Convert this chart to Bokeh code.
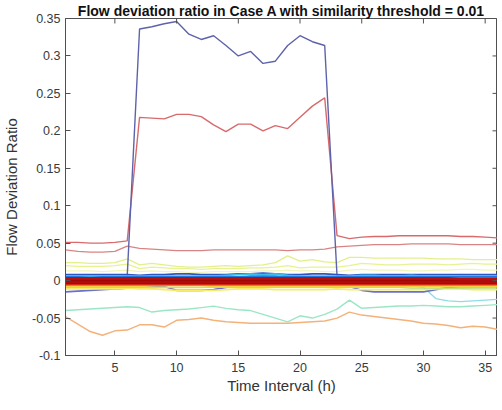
import math
from bokeh.plotting import figure
from bokeh.models import Range1d, FixedTicker
from bokeh.embed import file_html
from bokeh.resources import INLINE

# ---------------- data ----------------
hours = [1, 2, 3, 4, 5, 6, 7, 8, 9, 10, 11, 12, 13, 14, 15, 16, 17, 18,
         19, 20, 21, 22, 23, 24, 25, 26, 27, 28, 29, 30, 31, 32, 33, 34, 35, 36]

blue_spike = [0.005, 0.005, 0.005, 0.005, 0.005, 0.006,
              0.336, 0.339, 0.343, 0.346, 0.329, 0.322, 0.327, 0.314, 0.300, 0.306,
              0.290, 0.293, 0.314, 0.327, 0.319, 0.314,
              0.006, 0.005, 0.005, 0.005, 0.005, 0.005, 0.005, 0.005, 0.005, 0.005,
              0.005, 0.005, 0.005, 0.005]
red_spike = [0.051, 0.051, 0.050, 0.050, 0.051, 0.053,
             0.218, 0.217, 0.216, 0.222, 0.222, 0.219, 0.208, 0.199, 0.209, 0.209,
             0.200, 0.207, 0.203, 0.218, 0.233, 0.244,
             0.060, 0.056, 0.058, 0.059, 0.059, 0.060, 0.060, 0.060, 0.060, 0.060,
             0.059, 0.059, 0.058, 0.057]
pink = [0.041, 0.039, 0.038, 0.038, 0.039, 0.046, 0.043, 0.042, 0.041, 0.040,
        0.040, 0.040, 0.041, 0.041, 0.041, 0.041, 0.041, 0.041, 0.040, 0.041,
        0.041, 0.042, 0.045, 0.046, 0.047, 0.048, 0.048, 0.048, 0.049, 0.049,
        0.049, 0.049, 0.048, 0.048, 0.048, 0.048]
yellow_green_1 = [0.024, 0.024, 0.023, 0.023, 0.024, 0.029, 0.021, 0.023, 0.021, 0.019,
                  0.018, 0.018, 0.019, 0.020, 0.019, 0.020, 0.021, 0.024, 0.033, 0.026,
                  0.028, 0.025, 0.024, 0.031, 0.031, 0.030, 0.030, 0.030, 0.030, 0.030,
                  0.029, 0.029, 0.029, 0.028, 0.028, 0.028]
yellow_green_2 = [0.020, 0.019, 0.019, 0.019, 0.020, 0.022, 0.016, 0.018, 0.017, 0.016,
                  0.016, 0.015, 0.016, 0.016, 0.016, 0.017, 0.017, 0.018, 0.020, 0.017,
                  0.018, 0.018, 0.018, 0.020, 0.023, 0.022, 0.021, 0.021, 0.022, 0.022,
                  0.022, 0.021, 0.022, 0.023, 0.022, 0.022]
yellow_green_3 = [0.013, 0.013, 0.013, 0.012, 0.013, 0.014, 0.012, 0.013, 0.012, 0.012,
                  0.011, 0.011, 0.012, 0.012, 0.012, 0.012, 0.013, 0.013, 0.014, 0.013,
                  0.013, 0.012, 0.012, 0.014, 0.015, 0.014, 0.014, 0.014, 0.013, 0.013,
                  0.014, 0.014, 0.015, 0.015, 0.014, 0.014]
teal = [-0.040, -0.039, -0.038, -0.037, -0.036, -0.035, -0.036, -0.042, -0.040, -0.039,
        -0.038, -0.036, -0.034, -0.037, -0.039, -0.040, -0.045, -0.050, -0.055, -0.047,
        -0.050, -0.045, -0.038, -0.026, -0.037, -0.036, -0.035, -0.034, -0.034, -0.033,
        -0.034, -0.035, -0.035, -0.034, -0.033, -0.032]
cyan_drop = [-0.006, -0.006, -0.006, -0.006, -0.006, -0.006, -0.006, -0.006, -0.006, -0.006,
             -0.006, -0.006, -0.006, -0.006, -0.006, -0.006, -0.006, -0.006, -0.006, -0.006,
             -0.006, -0.006, -0.006, -0.006, -0.006, -0.006, -0.006, -0.006, -0.007, -0.009,
             -0.024, -0.027, -0.028, -0.027, -0.026, -0.025]
orange = [-0.048, -0.058, -0.068, -0.073, -0.067, -0.066, -0.059, -0.059, -0.062, -0.053,
          -0.052, -0.050, -0.053, -0.055, -0.056, -0.057, -0.057, -0.057, -0.057, -0.056,
          -0.055, -0.054, -0.050, -0.042, -0.046, -0.048, -0.050, -0.052, -0.054, -0.057,
          -0.058, -0.060, -0.063, -0.061, -0.062, -0.065]

# lines in the dense band around zero
band_blue = [0.008, 0.008, 0.008, 0.008, 0.008, 0.008, 0.007, 0.008, 0.008, 0.009,
             0.009, 0.008, 0.008, 0.008, 0.009, 0.009, 0.010, 0.009, 0.008, 0.008,
             0.009, 0.009, 0.008, 0.007, 0.008, 0.008, 0.008, 0.008, 0.008, 0.008,
             0.008, 0.008, 0.008, 0.008, 0.008, 0.008]
band_cyan = [0.006, 0.006, 0.006, 0.006, 0.006, 0.006, 0.006, 0.006, 0.006, 0.006,
             0.006, 0.006, 0.006, 0.007, 0.008, 0.009, 0.008, 0.009, 0.007, 0.006,
             0.006, 0.006, 0.006, 0.006, 0.007, 0.007, 0.006, 0.006, 0.007, 0.006,
             0.006, 0.006, 0.006, 0.006, 0.006, 0.006]
band_mid_blue = [0.005, 0.005, 0.004, 0.005, 0.005, 0.005, 0.005, 0.005, 0.005, 0.005,
                 0.005, 0.005, 0.005, 0.005, 0.005, 0.006, 0.006, 0.006, 0.005, 0.005,
                 0.005, 0.005, 0.005, 0.005, 0.005, 0.005, 0.005, 0.005, 0.005, 0.005,
                 0.005, 0.005, 0.005, 0.005, 0.005, 0.005]
dark_red_1 = [0.003, 0.003, 0.003, 0.003, 0.003, 0.003, 0.003, 0.003, 0.003, 0.003,
              0.003, 0.003, 0.003, 0.003, 0.003, 0.003, 0.003, 0.003, 0.003, 0.003,
              0.003, 0.003, 0.003, 0.003, 0.003, 0.003, 0.003, 0.003, 0.003, 0.003,
              0.003, 0.003, 0.002, 0.002, 0.002, 0.002]
dark_red_2 = [0.001, 0.001, 0.001, 0.001, 0.001, 0.001, 0.001, 0.001, 0.001, 0.001,
              0.001, 0.001, 0.001, 0.001, 0.001, 0.001, 0.001, 0.001, 0.001, 0.001,
              0.001, 0.001, 0.001, 0.001, 0.001, 0.001, 0.001, 0.001, 0.001, 0.001,
              0.001, 0.001, 0.001, 0.001, 0.001, 0.001]
dark_red_3 = [-0.001, -0.001, -0.001, -0.001, -0.001, -0.001, -0.001, -0.001, -0.001, -0.001,
              -0.001, -0.001, -0.001, -0.001, -0.001, -0.001, -0.001, -0.001, -0.001, -0.001,
              -0.001, -0.001, -0.001, -0.001, -0.001, -0.001, -0.001, -0.001, -0.001, -0.001,
              -0.001, -0.001, -0.001, -0.001, -0.001, -0.001]
dark_red_4 = [-0.003, -0.003, -0.003, -0.003, -0.003, -0.003, -0.003, -0.003, -0.003, -0.003,
              -0.003, -0.003, -0.003, -0.003, -0.003, -0.003, -0.003, -0.003, -0.003, -0.003,
              -0.003, -0.003, -0.003, -0.003, -0.003, -0.003, -0.003, -0.003, -0.003, -0.003,
              -0.003, -0.003, -0.003, -0.003, -0.003, -0.003]
band_red = [-0.004, -0.004, -0.004, -0.004, -0.004, -0.004, -0.004, -0.004, -0.004, -0.004,
            -0.004, -0.004, -0.004, -0.004, -0.004, -0.004, -0.004, -0.004, -0.004, -0.004,
            -0.004, -0.004, -0.004, -0.004, -0.004, -0.004, -0.004, -0.004, -0.004, -0.004,
            -0.004, -0.004, -0.004, -0.004, -0.004, -0.004]
band_orange = [-0.006, -0.006, -0.006, -0.006, -0.006, -0.006, -0.006, -0.006, -0.006, -0.006,
               -0.006, -0.006, -0.006, -0.006, -0.006, -0.006, -0.006, -0.006, -0.006, -0.006,
               -0.006, -0.006, -0.006, -0.006, -0.006, -0.006, -0.006, -0.006, -0.006, -0.006,
               -0.006, -0.006, -0.006, -0.006, -0.006, -0.006]
band_yellow = [-0.008, -0.008, -0.008, -0.008, -0.008, -0.008, -0.008, -0.009, -0.009, -0.009,
               -0.009, -0.009, -0.008, -0.008, -0.008, -0.008, -0.008, -0.008, -0.008, -0.008,
               -0.008, -0.008, -0.008, -0.008, -0.008, -0.008, -0.008, -0.008, -0.008, -0.008,
               -0.008, -0.008, -0.008, -0.008, -0.008, -0.008]
band_green = [-0.009, -0.009, -0.009, -0.009, -0.009, -0.009, -0.009, -0.009, -0.009, -0.009,
              -0.009, -0.009, -0.009, -0.009, -0.009, -0.009, -0.009, -0.009, -0.009, -0.009,
              -0.009, -0.009, -0.009, -0.009, -0.009, -0.009, -0.009, -0.009, -0.010, -0.010,
              -0.010, -0.010, -0.010, -0.010, -0.010, -0.010]
band_light_yellow = [-0.011, -0.011, -0.011, -0.011, -0.011, -0.010, -0.011, -0.011, -0.012, -0.013,
                     -0.013, -0.013, -0.013, -0.012, -0.011, -0.011, -0.011, -0.012, -0.012, -0.012,
                     -0.012, -0.012, -0.011, -0.012, -0.012, -0.012, -0.012, -0.012, -0.012, -0.012,
                     -0.011, -0.011, -0.011, -0.012, -0.012, -0.012]
band_purple = [-0.015, -0.014, -0.013, -0.012, -0.011, -0.010, -0.007, -0.007, -0.008, -0.013,
               -0.013, -0.013, -0.012, -0.009, -0.007, -0.007, -0.007, -0.007, -0.007, -0.007,
               -0.007, -0.007, -0.007, -0.008, -0.013, -0.015, -0.015, -0.015, -0.015, -0.015,
               -0.012, -0.009, -0.008, -0.008, -0.008, -0.008]

y_ticks = [-0.1, -0.05, 0, 0.05, 0.1, 0.15, 0.2, 0.25, 0.3, 0.35]
y_tick_labels = ["-0.1", "-0.05", "0", "0.05", "0.1", "0.15", "0.2", "0.25", "0.3", "0.35"]
x_ticks = [5, 10, 15, 20, 25, 30, 35]
x_lo, x_hi = hours[0], hours[-1]
y_lo, y_hi = y_ticks[0], y_ticks[-1]

# ---------------- figure ----------------
FONT = "Liberation Sans"
AX = "#505050"

p = figure(frame_width=432, frame_height=337, output_backend="svg", toolbar_location=None,
           x_range=Range1d(x_lo, x_hi), y_range=Range1d(y_lo, y_hi),
           min_border_left=0, min_border_right=0, min_border_top=0, min_border_bottom=0,
           title="Flow deviation ratio in Case A with similarity threshold = 0.01")
p.title.text_font = FONT
p.title.text_font_size = "14px"
p.title.text_font_style = "bold"
p.title.text_color = "#111111"
p.title.align = "center"
p.title.standoff = 0
p.title.offset = 0

p.grid.visible = False
p.outline_line_color = AX
p.outline_line_width = 1
p.background_fill_color = "white"
p.border_fill_color = "white"

def style_axis(ax):
    ax.axis_line_color = AX
    ax.major_tick_line_color = AX
    ax.major_tick_in = 5
    ax.major_tick_out = 0
    ax.minor_tick_in = 0
    ax.minor_tick_out = 0
    ax.major_label_text_font = FONT
    ax.major_label_text_font_size = "12.5px"
    ax.major_label_text_color = "#3a3a3a"
    ax.axis_label_text_font = FONT
    ax.axis_label_text_font_size = "15px"
    ax.axis_label_text_font_style = "normal"
    ax.axis_label_text_color = "#333333"

xa = p.xaxis[0]
xa.ticker = FixedTicker(ticks=x_ticks)
xa.axis_label = "Time Interval (h)"
style_axis(xa)
xa.major_label_standoff = 7
xa.axis_label_standoff = 2

ya = p.yaxis[0]
ya.ticker = FixedTicker(ticks=y_ticks)
ya.major_label_overrides = {t: s for t, s in zip(y_ticks, y_tick_labels)}
ya.axis_label = "Flow Deviation Ratio"
style_axis(ya)
ya.major_label_standoff = 5
ya.axis_label_standoff = 9

series = [
    (orange, "#f3b27a", 1.4),
    (teal, "#9ce6c6", 1.4),
    (cyan_drop, "#8fdce8", 1.4),
    (yellow_green_3, "#f0f6b8", 1.2),
    (yellow_green_2, "#e8f290", 1.4),
    (yellow_green_1, "#e4ef8c", 1.4),
    (pink, "#d98484", 1.4),
    (red_spike, "#d86a6c", 1.4),
    (blue_spike, "#5d62aa", 1.4),
    (band_purple, "#6a6ed0", 1.6),
    (band_light_yellow, "#f4ec6a", 1.6),
    (band_green, "#b4dc78", 1.4),
    (band_yellow, "#f4d23e", 1.6),
    (band_blue, "#2a56c6", 1.8),
    (band_cyan, "#3cbcea", 1.6),
    (band_mid_blue, "#1f78dc", 1.6),
    (band_orange, "#f07824", 2.0),
    (band_red, "#dc2418", 2.2),
    (dark_red_4, "#a80a0a", 2.6),
    (dark_red_3, "#b40c0c", 2.6),
    (dark_red_2, "#a00808", 2.6),
    (dark_red_1, "#b81010", 2.6),
]
for vals, col, w in series:
    p.line(hours, vals, line_color=col, line_width=w)

# inward ticks on the top and right edges of the box (clipped halves of dashes)
p.scatter(x=x_ticks, y=[y_hi] * len(x_ticks), marker="dash", angle=math.pi / 2,
          size=10, line_color=AX, line_width=1)
p.scatter(x=[x_hi] * len(y_ticks), y=y_ticks, marker="dash",
          size=10, line_color=AX, line_width=1)

open("out.html", "w").write(file_html(p, INLINE))
